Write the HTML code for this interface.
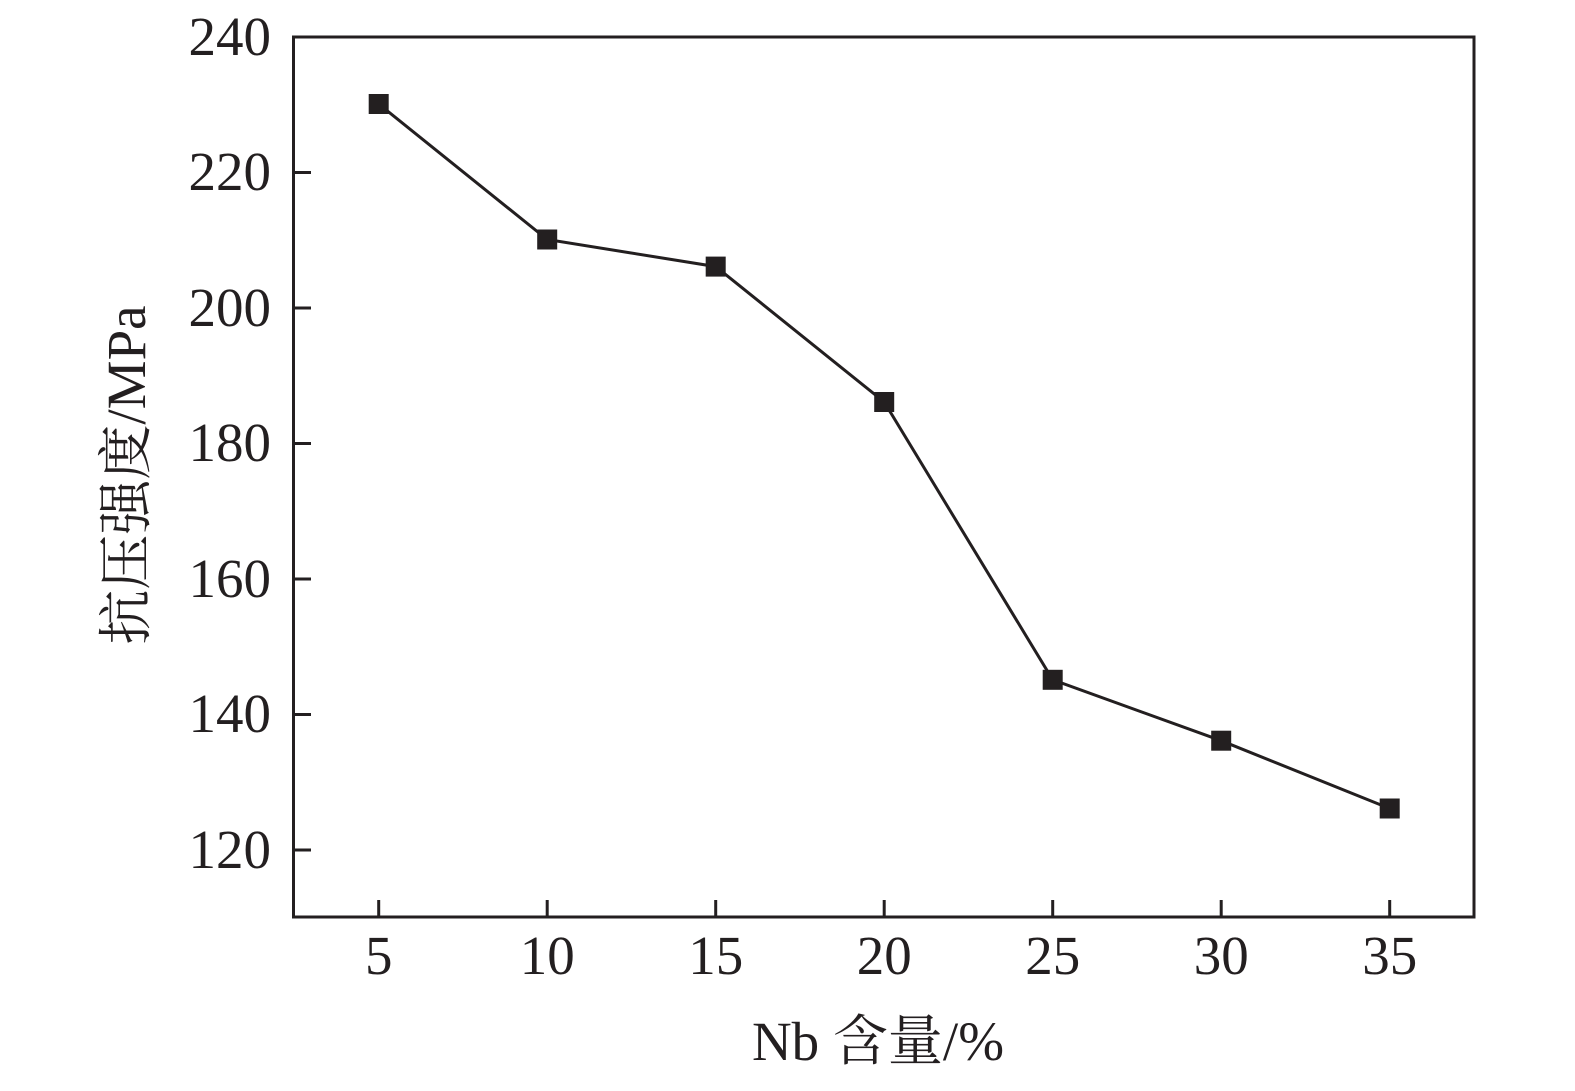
<!DOCTYPE html>
<html><head><meta charset="utf-8"><style>body{margin:0;background:#fff}</style></head><body>
<svg width="1575" height="1086" xmlns="http://www.w3.org/2000/svg" font-family="Liberation Serif, Noto Serif CJK SC, serif" fill="#231f20">
<rect x="293.5" y="37" width="1180.5" height="880" fill="none" stroke="#231f20" stroke-width="3"/>
<g stroke="#231f20" stroke-width="3">
<line x1="293.5" y1="850" x2="311" y2="850"/><line x1="293.5" y1="714.5" x2="311" y2="714.5"/><line x1="293.5" y1="579" x2="311" y2="579"/><line x1="293.5" y1="443.5" x2="311" y2="443.5"/><line x1="293.5" y1="308" x2="311" y2="308"/><line x1="293.5" y1="172.5" x2="311" y2="172.5"/>
<line x1="378.7" y1="917" x2="378.7" y2="900"/><line x1="547.2" y1="917" x2="547.2" y2="900"/><line x1="715.7" y1="917" x2="715.7" y2="900"/><line x1="884.2" y1="917" x2="884.2" y2="900"/><line x1="1052.7" y1="917" x2="1052.7" y2="900"/><line x1="1221.2" y1="917" x2="1221.2" y2="900"/><line x1="1389.7" y1="917" x2="1389.7" y2="900"/>
</g>
<g font-size="55" text-anchor="end">
<text x="271" y="868">120</text><text x="271" y="732">140</text><text x="271" y="597">160</text><text x="271" y="461">180</text><text x="271" y="326">200</text><text x="271" y="190">220</text><text x="271" y="55">240</text>
</g>
<g font-size="55" text-anchor="middle">
<text x="378.7" y="974">5</text><text x="547.2" y="974">10</text><text x="715.7" y="974">15</text><text x="884.2" y="974">20</text><text x="1052.7" y="974">25</text><text x="1221.2" y="974">30</text><text x="1389.7" y="974">35</text>
</g>
<text x="878" y="1060" font-size="55" text-anchor="middle">Nb 含量/%</text>
<text transform="translate(145,475) rotate(-90)" font-size="55" text-anchor="middle">抗压强度/MPa</text>
<polyline fill="none" stroke="#231f20" stroke-width="3" points="378.7,104 547.2,239.5 715.7,266.6 884.2,402 1052.7,679.8 1221.2,740.7 1389.7,808.5"/>
<g>
<rect x="368.7" y="94" width="20" height="20"/><rect x="537.2" y="229.5" width="20" height="20"/><rect x="705.7" y="256.6" width="20" height="20"/><rect x="874.2" y="392" width="20" height="20"/><rect x="1042.7" y="669.8" width="20" height="20"/><rect x="1211.2" y="730.7" width="20" height="20"/><rect x="1379.7" y="798.5" width="20" height="20"/>
</g>
</svg>
</body></html>
